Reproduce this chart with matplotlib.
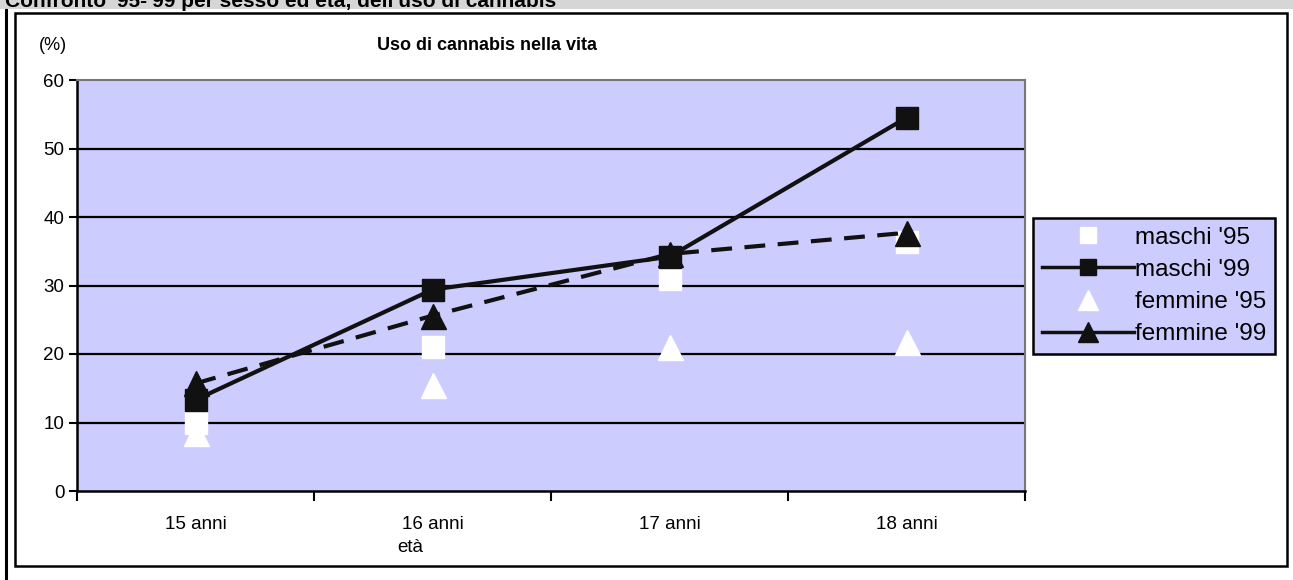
import matplotlib
matplotlib.use("Agg")
import matplotlib.pyplot as plt
from matplotlib.lines import Line2D
from matplotlib.patches import Rectangle
import numpy as np

plt.rcParams['font.family'] = ['Liberation Sans', 'DejaVu Sans']

categories = ["15 anni", "16 anni", "17 anni", "18 anni"]
maschi_95 = [10.0, 21.0, 30.9, 36.4]
maschi_99 = [13.3, 29.4, 34.2, 54.5]
femmine_95 = [8.5, 15.5, 21.0, 21.7]
femmine_99 = [15.7, 25.6, 34.6, 37.7]
yticks = [0, 10, 20, 30, 40, 50, 60]

W, H = 1293, 580
fig = plt.figure(figsize=(W / 100, H / 100), dpi=100)
fig.patch.set_facecolor('white')

def fx(px):
    return px / W

def fy(py):
    return 1 - py / H

# top gray band with cut-off heading
fig.patches.append(Rectangle((0, fy(9)), 1, 9 / H, transform=fig.transFigure,
                             facecolor='#d6d6d6', edgecolor='none', zorder=0))
fig.text(fx(5), fy(7), "Confronto '95-'99 per sesso ed età, dell'uso di cannabis",
         fontsize=15, fontweight='bold', va='baseline', ha='left', zorder=1)
# left page line
fig.add_artist(Line2D([fx(6), fx(6)], [fy(10), 0], transform=fig.transFigure,
                      color='black', lw=2.2))
# chart box
fig.patches.append(Rectangle((fx(15), fy(566)), fx(1287) - fx(15), fy(13) - fy(566),
                             transform=fig.transFigure, facecolor='none',
                             edgecolor='black', lw=1.8, zorder=2))

ax = fig.add_axes([fx(77), fy(491), fx(1025) - fx(77), fy(80) - fy(491)])
ax.set_facecolor('#ccccff')
x = np.arange(len(categories))
ax.set_xlim(-0.5, len(categories) - 0.5)
ax.set_ylim(0, 60)

for v in yticks[1:-1]:
    ax.axhline(v, color='black', lw=1.6, zorder=1)

ax.plot(x, maschi_95, ls='none', marker='s', ms=16, mfc='white', mec='white', zorder=3)
ax.plot(x, femmine_95, ls='none', marker='^', ms=18, mfc='white', mec='white', zorder=3)
ax.plot(x, femmine_99, ls=(0, (5, 3)), lw=3, color='#111111', marker='^', ms=18,
        mfc='#111111', mec='#111111', zorder=4)
ax.plot(x, maschi_99, ls='-', lw=3, color='#111111', marker='s', ms=16,
        mfc='#111111', mec='#111111', zorder=5)

ax.set_yticks(yticks)
ax.set_yticklabels([str(v) for v in yticks])
ax.set_xticks(x)
ax.set_xticklabels(categories)
ax.set_xticks(np.arange(-0.5, len(categories), 1.0), minor=True)
ax.tick_params(axis='x', which='major', length=0, labelsize=13.5, pad=18)
ax.tick_params(axis='x', which='minor', length=7, width=1.5, direction='out')
ax.tick_params(axis='y', length=6, width=1.5, direction='out', labelsize=13.5, pad=3)

for s in ['left', 'bottom']:
    ax.spines[s].set_color('black')
    ax.spines[s].set_linewidth(1.8)
for s in ['top', 'right']:
    ax.spines[s].set_color('#777777')
    ax.spines[s].set_linewidth(1.5)

fig.text(fx(53), fy(45), "(%)", fontsize=13, ha='center', va='center')
fig.text(fx(487), fy(46), "Uso di cannabis nella vita", fontsize=13,
         fontweight='bold', ha='center', va='center')
fig.text(fx(410), fy(548), "età", fontsize=13.5, ha='center', va='center')

handles = [
    Line2D([], [], ls='none', marker='s', ms=12, mfc='white', mec='white'),
    Line2D([], [], ls='-', lw=2.5, color='#111111', marker='s', ms=12),
    Line2D([], [], ls='none', marker='^', ms=14, mfc='white', mec='white'),
    Line2D([], [], ls='-', lw=2.5, color='#111111', marker='^', ms=14),
]
labels = ["maschi '95", "maschi '99", "femmine '95", "femmine '99"]
leg = fig.legend(handles, labels, loc='center left',
                 bbox_to_anchor=(fx(1033), fy(286)), fontsize=17.5,
                 frameon=True, fancybox=False, framealpha=1,
                 facecolor='#ccccff', edgecolor='black', handlelength=3.8,
                 handletextpad=0.05, labelspacing=0.42, borderpad=0.35,
                 borderaxespad=0)
leg.get_frame().set_linewidth(1.8)

fig.savefig("out.png", dpi=100)
